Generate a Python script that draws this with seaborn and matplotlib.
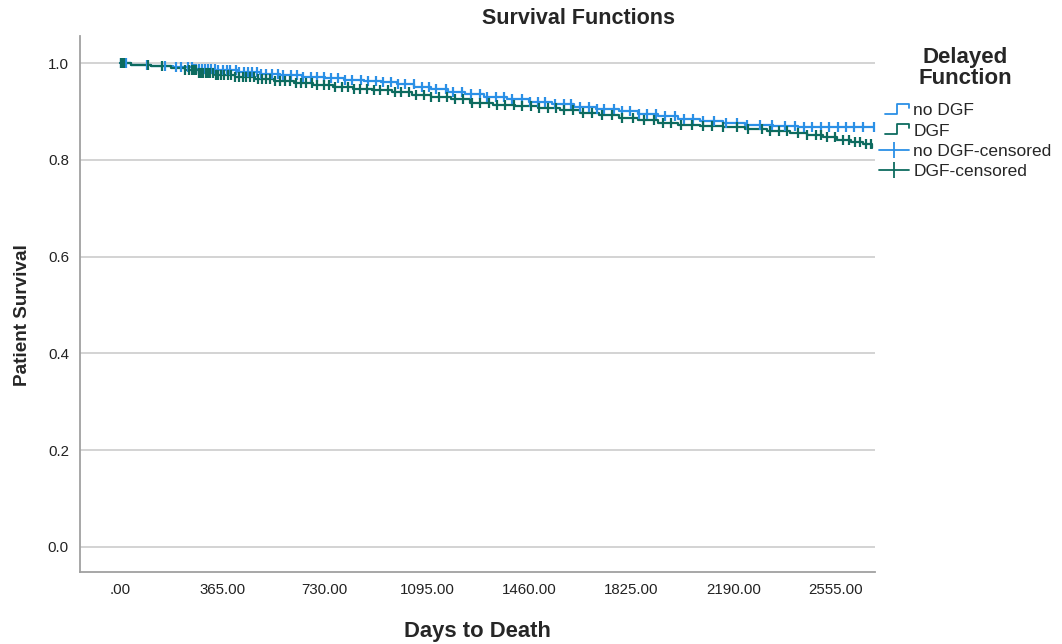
import matplotlib
matplotlib.use("Agg")
import matplotlib.pyplot as plt
import seaborn as sns
import pandas as pd
import numpy as np
from matplotlib.lines import Line2D
from matplotlib.legend_handler import HandlerBase

# ---------------- data ----------------
groups = ["no DGF", "DGF"]

nodgf_times = [0, 40, 110, 190, 260, 340, 420, 500, 570, 650, 730, 800, 870, 930, 990, 1050,
               1110, 1170, 1230, 1300, 1380, 1460, 1540, 1620, 1700, 1780, 1850, 1920, 1990,
               2070, 2150, 2230, 2330, 2420]
nodgf_surv = [1.0, .997, .995, .991, .988, .985, .982, .978, .975, .972, .969, .966, .963, .960,
              .956, .951, .946, .941, .936, .930, .925, .920, .915, .910, .905, .900, .895, .890,
              .885, .880, .876, .873, .870, .868]

dgf_times = [0, 40, 110, 180, 230, 280, 340, 410, 480, 550, 620, 690, 760, 830, 900, 970, 1040,
             1110, 1180, 1250, 1330, 1410, 1490, 1570, 1640, 1710, 1780, 1850, 1920, 1990, 2070,
             2150, 2230, 2310, 2390, 2450, 2510, 2560, 2610, 2650, 2685]
dgf_surv = [1.0, .997, .994, .990, .985, .979, .975, .971, .967, .963, .959, .955, .951, .947,
            .944, .940, .935, .930, .925, .918, .914, .911, .908, .903, .897, .892, .887, .882,
            .877, .873, .870, .867, .864, .860, .855, .851, .847, .842, .837, .832, .824]

nodgf_censored = [5, 12, 20, 95, 160, 198, 218, 243, 256, 263, 271, 282, 291, 302, 313, 326, 338,
                  351, 366, 381, 394, 412, 426, 441, 457, 471, 489, 503, 522, 541, 562, 583, 611,
                  632, 654, 681, 702, 727, 752, 778, 803, 829, 858, 884, 912, 938, 966, 992, 1018,
                  1049, 1077, 1102, 1128, 1163, 1188, 1221, 1252, 1283, 1309, 1342, 1371, 1398,
                  1433, 1462, 1491, 1518, 1552, 1583, 1608, 1641, 1672, 1703, 1728, 1761, 1792,
                  1818, 1853, 1882, 1912, 1944, 1982, 2012, 2043, 2081, 2118, 2162, 2203, 2238,
                  2283, 2328, 2372, 2408, 2442, 2468, 2502, 2531, 2561, 2592, 2618, 2652, 2690]

dgf_censored = [3, 8, 15, 100, 150, 232, 246, 255, 264, 272, 281, 288, 297, 305, 314, 322, 331,
                341, 350, 361, 372, 386, 397, 411, 423, 437, 451, 464, 478, 493, 506, 521, 536,
                552, 571, 589, 608, 627, 646, 664, 686, 704, 726, 746, 767, 791, 812, 836, 857,
                881, 906, 929, 955, 981, 1004, 1031, 1057, 1086, 1111, 1139, 1167, 1196, 1224,
                1256, 1284, 1316, 1346, 1374, 1406, 1434, 1466, 1494, 1526, 1556, 1584, 1616,
                1651, 1684, 1721, 1754, 1791, 1829, 1871, 1904, 1936, 1966, 2001, 2041, 2079,
                2112, 2151, 2201, 2241, 2289, 2321, 2352, 2381, 2421, 2452, 2482, 2501, 2522,
                2551, 2579, 2601, 2622, 2641, 2661, 2680]

x_ticks = [0, 365, 730, 1095, 1460, 1825, 2190, 2555]
x_tick_labels = [".00", "365.00", "730.00", "1095.00", "1460.00", "1825.00", "2190.00", "2555.00"]
y_ticks = [0.0, 0.2, 0.4, 0.6, 0.8, 1.0]
y_tick_labels = ["0.0", "0.2", "0.4", "0.6", "0.8", "1.0"]

colors = {"no DGF": "#2B90E6", "DGF": "#0D6B5F"}

# ---------------- build frames ----------------
curves = {
    "no DGF": (nodgf_times, nodgf_surv, nodgf_censored),
    "DGF": (dgf_times, dgf_surv, dgf_censored),
}
rows = []
cens_rows = []
for g, (t, s, c) in curves.items():
    t_end = max(max(t), max(c))
    tt = list(t) + [t_end]
    ss = list(s) + [s[-1]]
    for a, b in zip(tt, ss):
        rows.append({"time": a, "surv": b, "group": g})
    t_arr = np.array(t)
    for ct in c:
        idx = np.searchsorted(t_arr, ct, side="right") - 1
        cens_rows.append({"time": ct, "surv": s[idx], "group": g})
df = pd.DataFrame(rows)
cdf = pd.DataFrame(cens_rows)

# ---------------- plot ----------------
sns.set_theme(style="white")
plt.rcParams["font.family"] = ["Liberation Sans", "DejaVu Sans"]

fig = plt.figure(figsize=(10.62, 6.44), dpi=100)
ax = fig.add_axes([80 / 1062, (644 - 572) / 644, (875 - 80) / 1062, (572 - 36) / 644])

for g in groups:
    sub = df[df.group == g]
    sns.lineplot(data=sub, x="time", y="surv", ax=ax, color=colors[g], drawstyle="steps-post",
                 estimator=None, sort=False, lw=1.6, legend=False)
for g in groups:
    sub = cdf[cdf.group == g]
    ax.plot(sub["time"], sub["surv"], linestyle="none", marker="|", markersize=7.5,
            markeredgewidth=1.6, color=colors[g])

ax.set_xlim(-143, 2694)
ax.set_ylim(-0.052, 1.056)
ax.set_xticks(x_ticks)
ax.set_xticklabels(x_tick_labels)
ax.set_yticks(y_ticks)
ax.set_yticklabels(y_tick_labels)
ax.tick_params(axis="both", length=0, labelsize=10.8, colors="#222222", pad=8)
ax.yaxis.grid(True, color="#CCCCCC", lw=1.2)
ax.xaxis.grid(False)
ax.set_axisbelow(True)
for sp in ["top", "right"]:
    ax.spines[sp].set_visible(False)
for sp in ["left", "bottom"]:
    ax.spines[sp].set_color("#A0A0A0")
    ax.spines[sp].set_linewidth(1.3)

ax.set_xlabel("Days to Death", fontsize=15.8, fontweight="bold", labelpad=17)
ax.set_ylabel("Patient Survival", fontsize=13.6, fontweight="bold")
ax.yaxis.set_label_coords((31 - 80) / 795, (572 - 315) / 536)
fig.text(579 / 1062, 1 - 18 / 644, "Survival Functions", ha="center", va="center",
         fontsize=15.5, fontweight="bold")

# legend title
fig.text(965 / 1062, 1 - 68 / 644, "Delayed\nFunction", ha="center", va="center",
         fontsize=16, fontweight="bold", multialignment="center", linespacing=0.98)


class StepHandler(HandlerBase):
    def create_artists(self, legend, orig_handle, xdescent, ydescent, width, height,
                       fontsize, trans):
        x0 = -xdescent + 0.2 * width
        w = 0.8 * width
        xs = [x0, x0 + 0.5 * w, x0 + 0.5 * w, x0 + 0.97 * w, x0 + 0.97 * w]
        h0 = -ydescent
        ys = [h0 + 0.1 * height, h0 + 0.1 * height, h0 + 0.95 * height, h0 + 0.95 * height,
              h0 + 0.6 * height]
        ln = Line2D(xs, ys, color=orig_handle.get_color(), lw=1.3)
        ln.set_transform(trans)
        return [ln]


h1 = Line2D([], [], color=colors["no DGF"])
h2 = Line2D([], [], color=colors["DGF"])
h3 = Line2D([], [], color=colors["no DGF"], lw=1.3, marker="|", markersize=12, markeredgewidth=1.3)
h4 = Line2D([], [], color=colors["DGF"], lw=1.3, marker="|", markersize=12, markeredgewidth=1.3)
leg = fig.legend([h1, h2, h3, h4], ["no DGF", "DGF", "no DGF-censored", "DGF-censored"],
                 handler_map={h1: StepHandler(), h2: StepHandler()},
                 loc="upper left", bbox_to_anchor=(879 / 1062, 1 - 103 / 644), frameon=False,
                 fontsize=12.5, handlelength=1.75, handletextpad=0.22, labelspacing=0.3,
                 borderaxespad=0, borderpad=0)

fig.savefig("out.png", dpi=100)
